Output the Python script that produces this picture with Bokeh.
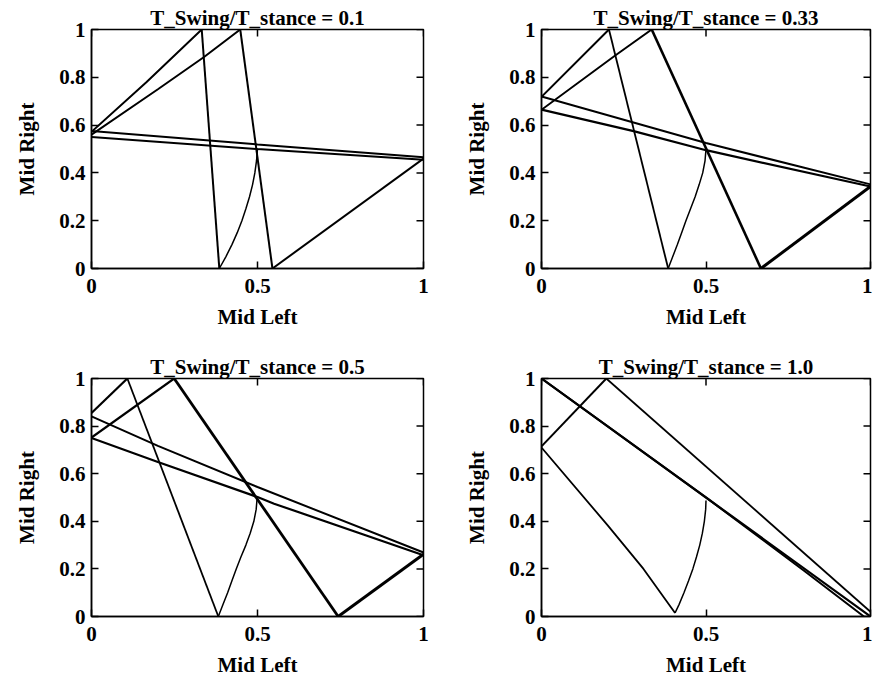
import math
from bokeh.plotting import figure
from bokeh.layouts import gridplot
from bokeh.models import Range1d, FixedTicker
from bokeh.embed import file_html
from bokeh.resources import INLINE

# ---------------- data ----------------
ratios = ["0.1", "0.33", "0.5", "1.0"]
x_label = "Mid Left"
y_label = "Mid Right"
x_ticks = [0, 0.5, 1]
x_tick_labels = ["0", "0.5", "1"]
y_ticks = [0, 0.2, 0.4, 0.6, 0.8, 1]
y_tick_labels = ["0", "0.2", "0.4", "0.6", "0.8", "1"]

# Panel 1: T_Swing/T_stance = 0.1  (each entry one trajectory)
p1_x = [
    [0, 0.166, 0.332],
    [0, 0.2, 0.339, 0.448],
    [0.332, 0.385],
    [0.448, 0.545],
    [0.385, 0.405, 0.423, 0.439, 0.453, 0.465, 0.476, 0.485, 0.492, 0.497, 0.5],
    [0.545, 1],
    [0, 0.5, 1],
    [0, 0.5, 1],
]
p1_y = [
    [0.572, 0.78, 1.0],
    [0.56, 0.75, 0.885, 1.0],
    [1, 0],
    [1, 0],
    [0, 0.05, 0.1, 0.15, 0.2, 0.25, 0.3, 0.35, 0.4, 0.45, 0.5],
    [0, 0.46],
    [0.575, 0.519, 0.465],
    [0.55, 0.5, 0.455],
]

# Panel 2: T_Swing/T_stance = 0.33
p2_x = [
    [0, 0.205],
    [0, 0.223, 0.335],
    [0.205, 0.385],
    [0.335, 0.667],
    [0.667, 1],
    [0.385, 0.399, 0.413, 0.426, 0.439, 0.453, 0.467, 0.479, 0.49, 0.497, 0.5],
    [0, 0.5, 1],
    [0, 0.28, 0.5, 1],
]
p2_y = [
    [0.718, 1],
    [0.664, 0.89, 1],
    [1, 0],
    [1, 0],
    [0, 0.343],
    [0, 0.05, 0.1, 0.15, 0.2, 0.25, 0.3, 0.35, 0.4, 0.45, 0.5],
    [0.72, 0.525, 0.352],
    [0.665, 0.575, 0.495, 0.343],
]

# Panel 3: T_Swing/T_stance = 0.5
p3_x = [
    [0, 0.108],
    [0, 0.249],
    [0.108, 0.382],
    [0.249, 0.743],
    [0.743, 1],
    [0.382, 0.396, 0.41, 0.423, 0.436, 0.45, 0.465, 0.478, 0.489, 0.496, 0.499],
    [0, 0.2, 0.5, 1],
    [0, 0.2, 0.5, 0.55, 1],
]
p3_y = [
    [0.855, 1],
    [0.752, 1],
    [1, 0],
    [1, 0],
    [0, 0.262],
    [0, 0.05, 0.1, 0.15, 0.2, 0.25, 0.3, 0.35, 0.4, 0.45, 0.5],
    [0.841, 0.717, 0.544, 0.269],
    [0.75, 0.649, 0.502, 0.474, 0.257],
]

# Panel 4: T_Swing/T_stance = 1.0
p4_x = [
    [0, 0.197],
    [0.197, 1],
    [0, 0.2, 0.31, 0.406],
    [0.406, 0.418, 0.433, 0.447, 0.46, 0.471, 0.481, 0.489, 0.495, 0.499, 0.5],
    [0, 0.5, 1],
    [0, 0.5, 0.8, 0.98],
]
p4_y = [
    [0.715, 1],
    [1, 0.02],
    [0.71, 0.385, 0.2, 0.015],
    [0.015, 0.05, 0.1, 0.15, 0.2, 0.25, 0.3, 0.35, 0.4, 0.45, 0.487],
    [1, 0.5, 0],
    [1, 0.5, 0.19, 0],
]

# ---------------- styles ----------------
p1_w = [2, 2, 2, 2, 1.5, 2, 2, 2]
p2_w = [2, 2, 1.8, 2.6, 3, 1.5, 2, 2.2]
p3_w = [2.2, 2.2, 1.8, 2.8, 3, 1.5, 2, 2.2]
p4_w = [2, 1.8, 1.8, 1.5, 2.2, 2]

FONT = "Liberation Serif"
STYLE = "bold"
TICK_IN = 7


def make_panel(title, xs, ys, ws, width, height, b_left, b_right, b_top, b_bottom):
    p = figure(width=width, height=height,
               x_range=Range1d(0, 1), y_range=Range1d(0, 1),
               output_backend="svg", toolbar_location=None,
               min_border_left=b_left, min_border_right=b_right,
               min_border_top=b_top, min_border_bottom=b_bottom)
    p.grid.visible = False
    p.outline_line_color = "black"
    p.outline_line_width = 1.5
    p.background_fill_color = "white"
    p.border_fill_color = "white"

    p.title.text = title
    p.title.align = "center"
    p.title.text_font = FONT
    p.title.text_font_size = "21px"
    p.title.text_font_style = STYLE
    p.title.text_color = "black"
    p.title.standoff = 0

    for x, y, w in zip(xs, ys, ws):
        p.line(x, y, line_color="black", line_width=w)

    # inward ticks on the top and right edges
    p.ray(x=[1] * len(y_ticks), y=y_ticks, length=TICK_IN, length_units="screen",
          angle=math.pi, line_color="black", line_width=1.5)
    p.ray(x=x_ticks, y=[1] * len(x_ticks), length=TICK_IN, length_units="screen",
          angle=-math.pi / 2, line_color="black", line_width=1.5)

    ax = p.xaxis[0]
    ax.ticker = FixedTicker(ticks=x_ticks)
    ax.major_label_overrides = {float(t): l for t, l in zip(x_ticks, x_tick_labels)}
    ax.axis_label = x_label
    ax.major_label_standoff = 10
    ax.axis_label_standoff = 9

    ay = p.yaxis[0]
    ay.ticker = FixedTicker(ticks=y_ticks)
    ay.major_label_overrides = {float(t): l for t, l in zip(y_ticks, y_tick_labels)}
    ay.axis_label = y_label
    ay.major_label_standoff = 6
    ay.axis_label_standoff = 17

    for a in (ax, ay):
        a.major_tick_in = TICK_IN
        a.major_tick_out = 0
        a.minor_tick_line_color = None
        a.axis_line_width = 1.5
        a.major_tick_line_width = 1.5
        a.major_label_text_font = FONT
        a.major_label_text_font_size = "21px"
        a.major_label_text_font_style = STYLE
        a.major_label_text_color = "black"
        a.axis_label_text_font = FONT
        a.axis_label_text_font_size = "21px"
        a.axis_label_text_font_style = STYLE
        a.axis_label_text_color = "black"
    return p


titles = ["T_Swing/T_stance = " + r for r in ratios]
f1 = make_panel(titles[0], p1_x, p1_y, p1_w, 458, 351, 91, 35, 29, 83)
f2 = make_panel(titles[1], p2_x, p2_y, p2_w, 414, 351, 83, 2, 29, 83)
f3 = make_panel(titles[2], p3_x, p3_y, p3_w, 458, 329, 91, 35, 27, 64)
f4 = make_panel(titles[3], p4_x, p4_y, p4_w, 414, 329, 83, 2, 27, 64)

layout = gridplot([[f1, f2], [f3, f4]], toolbar_location=None)

open("out.html", "w").write(file_html(layout, INLINE))
